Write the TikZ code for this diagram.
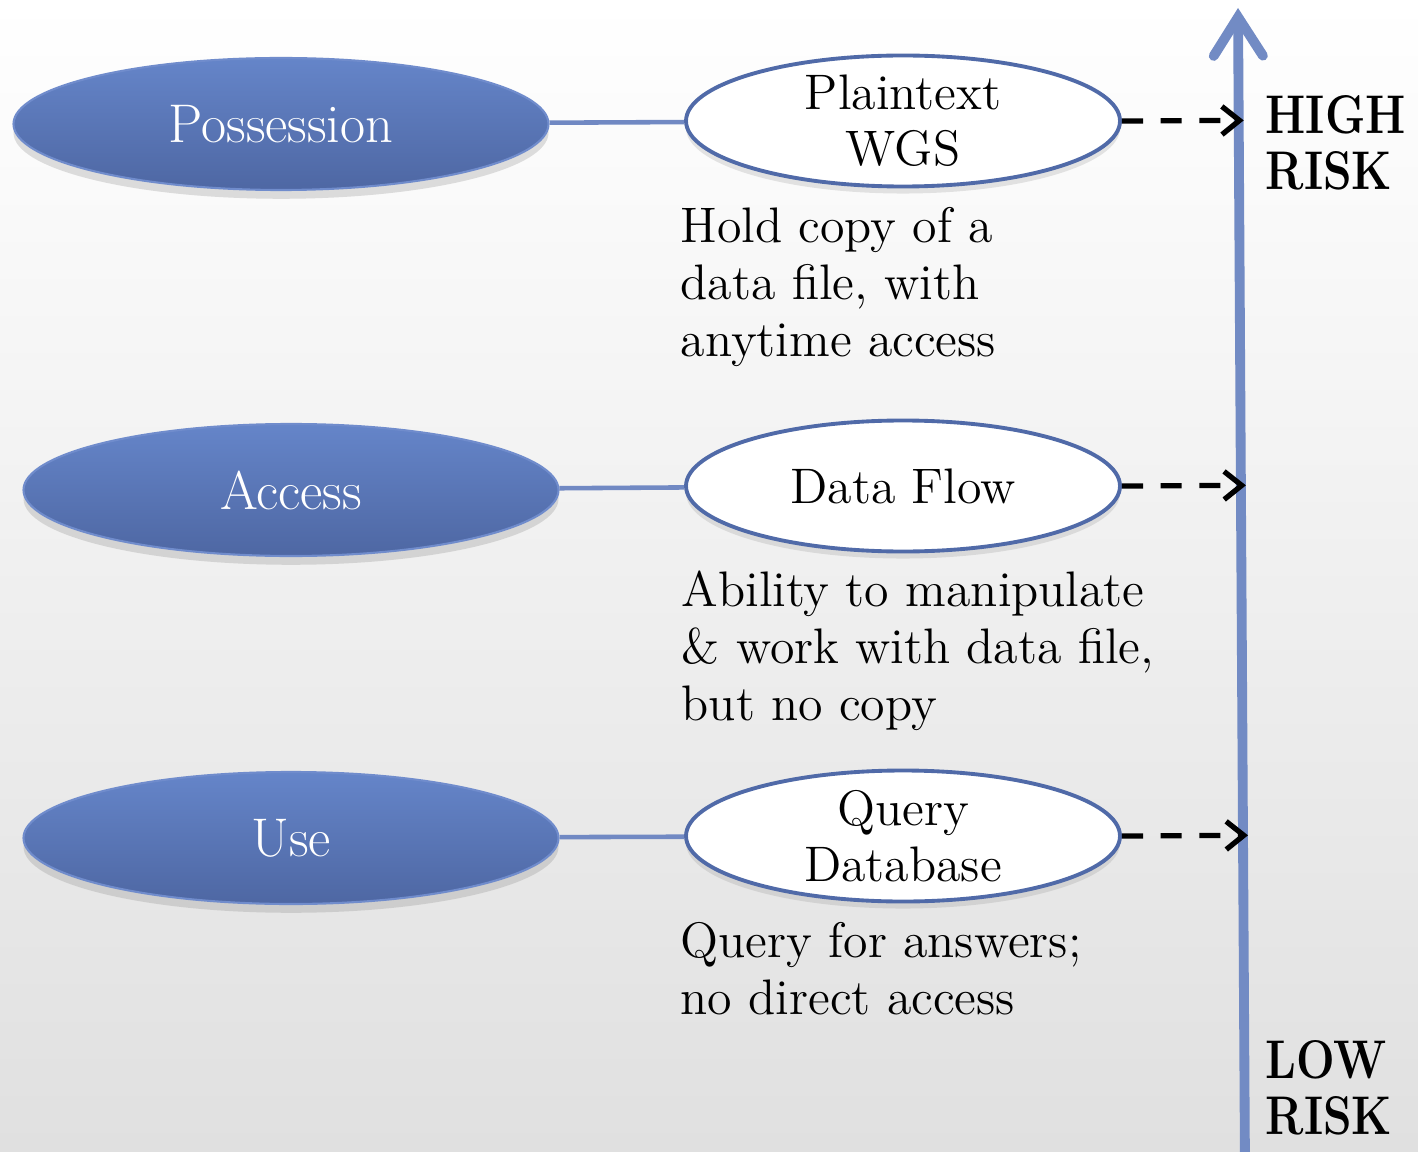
\documentclass[tikz,border=0pt]{standalone}
\usetikzlibrary{shapes.geometric,arrows.meta,shadows,calc}
\definecolor{ovaltop}{RGB}{101,133,201}
\definecolor{ovalbot}{RGB}{78,103,163}
\definecolor{ovaledge}{RGB}{112,140,204}
\definecolor{rimblue}{RGB}{80,106,168}
\definecolor{linkblue}{RGB}{113,137,195}
\definecolor{axisblue}{RGB}{114,139,196}
\definecolor{bggray}{RGB}{224,224,224}

\begin{document}
\begin{tikzpicture}[
    bigoval/.style={ellipse, minimum width=5.35cm, minimum height=1.32cm,
      top color=ovaltop, bottom color=ovalbot, draw=ovaledge, line width=0.6pt,
      text=white, font=\fontsize{15.5}{18}\selectfont,
      drop shadow={opacity=0.25, shadow xshift=0pt, shadow yshift=-2.5pt}},
    smalloval/.style={ellipse, minimum width=4.34cm, minimum height=1.31cm,
      fill=white, draw=rimblue, line width=1.1pt, align=center, inner sep=0pt,
      font=\fontsize{14.2}{16}\selectfont,
      drop shadow={opacity=0.2, shadow xshift=0pt, shadow yshift=-2pt}},
    desc/.style={anchor=north west, inner sep=0pt, align=left,
      font=\fontsize{14.2}{16.2}\selectfont},
    risk/.style={anchor=north west, inner sep=0pt, align=left,
      xscale=0.84, transform shape, font=\bfseries\fontsize{15.5}{16}\selectfont},
    link/.style={draw=linkblue, line width=1.3pt},
    dasharr/.style={line width=1.5pt, dash pattern=on 6pt off 5pt,
      -{Straight Barb[length=5pt,width=8pt]}},
    axisarr/.style={draw=axisblue, line width=2.8pt,
      -{Straight Barb[length=11pt,width=14pt,line cap=round]}}
  ]
    % fond
    \shade[top color=white, middle color=white, bottom color=bggray]
      (0,0) rectangle (14.18,11.51);
    \useasboundingbox (0,0) rectangle (14.18,11.51);

    % axe du risque
    \coordinate (arrbot) at (12.45,-0.2);
    \coordinate (arrtop) at (12.38,11.43);
    \draw[axisarr] (arrbot) -- (arrtop);
    \node[risk] (high) at (12.65,10.56) {HIGH\\RISK};
    \node[risk] (low) at (12.65,1.11) {LOW\\RISK};

    % niveaux
    \node[bigoval] (poss) at (2.81,10.27) {Possession};
    \node[bigoval] (acc) at (2.91,6.61) {Access};
    \node[bigoval] (use) at (2.91,3.13) {Use};

    \node[smalloval] (wgs) at (9.03,10.30) {Plaintext\\WGS};
    \node[smalloval] (flow) at (9.03,6.65) {Data Flow};
    \node[smalloval] (query) at (9.03,3.15) {Query\\Database};

    \draw[link] (poss) -- (wgs);
    \draw[link] (acc) -- (flow);
    \draw[link] (use) -- (query);

    % descriptions
    \node[desc] (holdtxt) at (6.80,9.44) {Hold copy of a\\data file, with\\anytime access};
    \node[desc] (abiltxt) at (6.81,5.81) {Ability to manipulate\\\& work with data file,\\but no copy};
    \node[desc] (querytxt) at (6.80,2.29) {Query for answers;\\no direct access};

    % fleches vers l'axe
    \draw[dasharr] (wgs.east) -- ($(arrbot)!(wgs.east)!(arrtop)+(0.05,0)$);
    \draw[dasharr] (flow.east) -- ($(arrbot)!(flow.east)!(arrtop)+(0.05,0)$);
    \draw[dasharr] (query.east) -- ($(arrbot)!(query.east)!(arrtop)+(0.05,0)$);
  \end{tikzpicture}
\end{document}
